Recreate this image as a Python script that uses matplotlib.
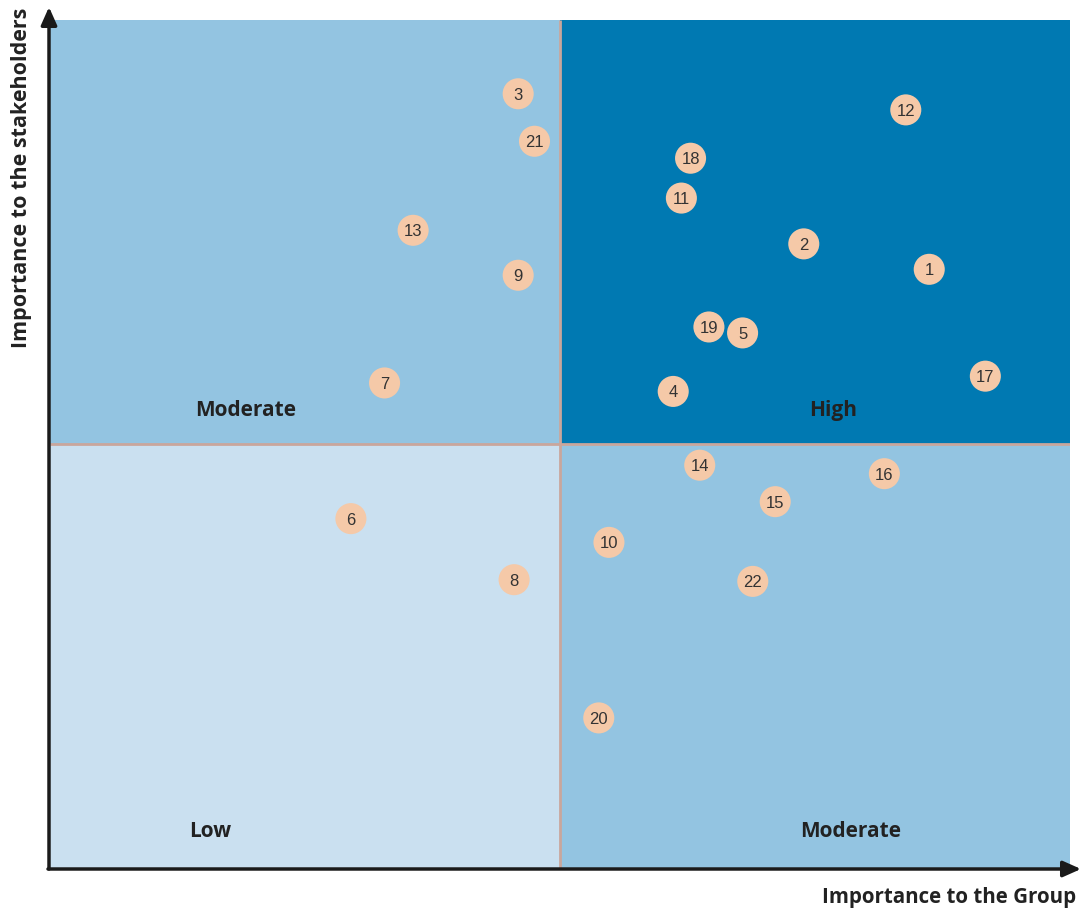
import matplotlib
matplotlib.use("Agg")
import matplotlib.pyplot as plt
from matplotlib.patches import Rectangle, FancyArrowPatch

# Data
labels = ["1", "2", "3", "4", "5", "6", "7", "8", "9", "10", "11",
          "12", "13", "14", "15", "16", "17", "18", "19", "20", "21", "22"]
group_importance = [8.62, 7.39, 4.59, 6.11, 6.79, 2.95, 3.28, 4.55, 4.59, 5.48, 6.19,
                    8.39, 3.56, 6.37, 7.11, 8.18, 9.17, 6.28, 6.46, 5.38, 4.75, 6.89]
stakeholder_importance = [7.06, 7.36, 9.13, 5.62, 6.31, 4.12, 5.72, 3.40, 6.99, 3.84, 7.90,
                          8.94, 7.52, 4.75, 4.32, 4.65, 5.80, 8.37, 6.38, 1.77, 8.57, 3.38]
quadrant_names = ["Low", "Moderate", "Moderate", "High"]
x_title = "Importance to the Group"
y_title = "Importance to the stakeholders"

W, H = 1081, 911
fig = plt.figure(figsize=(W / 100, H / 100), dpi=100)
ax = fig.add_axes([50 / W, (H - 868) / H, 1020 / W, 848 / H])
ax.set_xlim(0, 10)
ax.set_ylim(0, 10)
ax.axis("off")

# Quadrants
ax.add_patch(Rectangle((0, 0), 5, 5, facecolor="#CAE0F0", edgecolor="none", zorder=0))
ax.add_patch(Rectangle((5, 0), 5, 5, facecolor="#93C4E1", edgecolor="none", zorder=0))
ax.add_patch(Rectangle((0, 5), 5, 5, facecolor="#93C4E1", edgecolor="none", zorder=0))
ax.add_patch(Rectangle((5, 5), 5, 5, facecolor="#0079B2", edgecolor="none", zorder=0))
ax.plot([5, 5], [0, 10], color="#C9A69C", lw=2, zorder=1, solid_capstyle="butt")
ax.plot([0, 10], [5, 5], color="#C9A69C", lw=2, zorder=1, solid_capstyle="butt")

# Quadrant labels
qstyle = dict(fontsize=15, fontweight="bold", color="#222222", ha="center", va="center",
              family="Open Sans")
ax.text(1.57, 0.43, quadrant_names[0], **qstyle)
ax.text(7.85, 0.43, quadrant_names[1], **qstyle)
ax.text(1.92, 5.40, quadrant_names[2], **qstyle)
ax.text(7.68, 5.40, quadrant_names[3], **qstyle)

# Points
ax.scatter(group_importance, stakeholder_importance, s=500, color="#F5C9A8",
           edgecolors="none", zorder=3, clip_on=False)
for lab, x, y in zip(labels, group_importance, stakeholder_importance):
    ax.text(x, y, lab, fontsize=12, color="#333333", ha="center", va="center_baseline",
            zorder=4, family="Liberation Sans")

# Axis arrows (figure pixel coords)
def fx(px):
    return px / W

def fy(py):
    return 1 - py / H

arrow = dict(arrowstyle="-|>,head_length=0.9,head_width=0.4", color="#1a1a1a", lw=2.5,
             shrinkA=0, shrinkB=0)
fig.add_artist(FancyArrowPatch((fx(49), fy(869)), (fx(49), fy(7)),
                               transform=fig.transFigure, mutation_scale=12, **arrow))
fig.add_artist(FancyArrowPatch((fx(48), fy(869)), (fx(1081), fy(869)),
                               transform=fig.transFigure, mutation_scale=12, **arrow))

fig.text(fx(1076), fy(897), x_title, fontsize=14.8, fontweight="bold", color="#222222",
         ha="right", va="center", family="Open Sans")
fig.text(fx(22), fy(8), y_title, fontsize=15.5, fontweight="bold", color="#222222",
         ha="center", va="top", rotation=90, family="Open Sans")

fig.savefig("out.png", dpi=100, facecolor="white")
